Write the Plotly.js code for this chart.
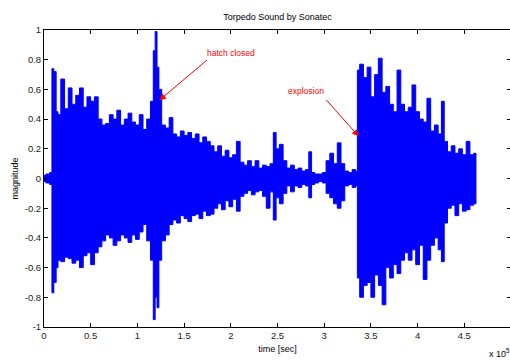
<!DOCTYPE html>
<html>
<head>
<meta charset="utf-8">
<script src="https://cdn.plot.ly/plotly-3.0.1.min.js"></script>
<style>
html,body{margin:0;padding:0;overflow:hidden;background:#fff;}
#chart{width:512px;height:361px;}
</style>
</head>
<body>
<div id="chart"></div>
<script>
// time positions (x 10^5 samples) where the waveform envelope was read
const t = [0.00,0.04,0.08,0.09,0.12,0.14,0.16,0.20,0.24,0.28,0.32,0.36,0.40,0.44,0.48,0.52,0.56,0.60,0.64,0.68,0.72,0.76,0.80,0.84,0.88,0.92,0.96,1.00,1.04,1.08,1.12,1.16,1.18,1.20,1.22,1.24,1.28,1.32,1.36,1.40,1.44,1.48,1.52,1.56,1.60,1.64,1.68,1.72,1.76,1.80,1.84,1.88,1.92,1.96,2.00,2.04,2.08,2.12,2.16,2.20,2.24,2.28,2.32,2.36,2.40,2.44,2.47,2.50,2.54,2.58,2.62,2.66,2.70,2.74,2.78,2.82,2.85,2.88,2.92,2.96,3.00,3.04,3.08,3.12,3.16,3.20,3.24,3.28,3.32,3.35,3.36,3.40,3.44,3.48,3.52,3.56,3.60,3.64,3.68,3.72,3.76,3.80,3.84,3.88,3.92,3.96,4.00,4.04,4.08,4.12,4.16,4.20,4.24,4.27,4.30,4.34,4.38,4.42,4.46,4.50,4.54,4.58,4.62,4.63];
// upper envelope of the magnitude
const upper = [0.02,0.03,0.04,0.74,0.72,0.45,0.43,0.67,0.47,0.61,0.50,0.56,0.61,0.48,0.55,0.52,0.55,0.40,0.36,0.37,0.43,0.40,0.46,0.36,0.40,0.44,0.38,0.36,0.43,0.33,0.40,0.52,0.86,0.99,0.75,0.60,0.36,0.34,0.41,0.30,0.28,0.32,0.29,0.31,0.27,0.30,0.24,0.28,0.25,0.22,0.18,0.22,0.15,0.19,0.14,0.16,0.25,0.11,0.09,0.12,0.08,0.12,0.07,0.09,0.08,0.10,0.31,0.20,0.23,0.12,0.07,0.09,0.06,0.07,0.05,0.06,0.18,0.04,0.03,0.03,0.04,0.12,0.17,0.10,0.24,0.10,0.05,0.04,0.06,0.05,0.73,0.77,0.68,0.75,0.55,0.70,0.81,0.58,0.62,0.50,0.45,0.73,0.50,0.45,0.48,0.63,0.45,0.40,0.38,0.54,0.32,0.36,0.30,0.52,0.25,0.18,0.22,0.17,0.20,0.16,0.25,0.16,0.17,0.16];
// lower envelope of the magnitude
const lower = [-0.02,-0.03,-0.04,-0.77,-0.70,-0.60,-0.55,-0.56,-0.53,-0.54,-0.57,-0.55,-0.60,-0.52,-0.50,-0.58,-0.50,-0.46,-0.42,-0.38,-0.40,-0.45,-0.42,-0.38,-0.40,-0.43,-0.38,-0.41,-0.36,-0.31,-0.42,-0.55,-0.95,-0.80,-0.87,-0.55,-0.42,-0.38,-0.31,-0.28,-0.30,-0.25,-0.27,-0.29,-0.25,-0.24,-0.27,-0.22,-0.25,-0.24,-0.20,-0.17,-0.21,-0.15,-0.19,-0.14,-0.22,-0.12,-0.10,-0.08,-0.11,-0.09,-0.08,-0.12,-0.20,-0.09,-0.28,-0.13,-0.17,-0.10,-0.05,-0.09,-0.05,-0.06,-0.04,-0.05,-0.13,-0.04,-0.03,-0.02,-0.03,-0.10,-0.13,-0.17,-0.20,-0.15,-0.05,-0.04,-0.06,-0.05,-0.67,-0.80,-0.72,-0.70,-0.80,-0.65,-0.72,-0.85,-0.60,-0.67,-0.58,-0.64,-0.55,-0.50,-0.55,-0.48,-0.58,-0.45,-0.68,-0.55,-0.45,-0.40,-0.48,-0.56,-0.30,-0.20,-0.18,-0.25,-0.17,-0.22,-0.21,-0.18,-0.17,-0.16];

const xTicks = [0,0.5,1,1.5,2,2.5,3,3.5,4,4.5];
const xTickText = ['0','0.5','1','1.5','2','2.5','3','3.5','4','4.5'];
const yTicks = [-1,-0.8,-0.6,-0.4,-0.2,0,0.2,0.4,0.6,0.8,1];
const yTickText = ['-1','-0.8','-0.6','-0.4','-0.2','0','0.2','0.4','0.6','0.8','1'];

const FONT = '"Liberation Sans", Arial, sans-serif';
const BLUE = 'rgb(0,0,255)';
const RED = 'rgb(255,0,0)';

const traces = [
  {x: t, y: lower, type: 'scatter', mode: 'lines', line: {color: BLUE, width: 1, shape: 'hvh'}, hoverinfo: 'skip', showlegend: false},
  {x: t, y: upper, type: 'scatter', mode: 'lines', fill: 'tonexty', fillcolor: BLUE, line: {color: BLUE, width: 1, shape: 'hvh'}, hoverinfo: 'skip', showlegend: false}
];

const axisCommon = {
  showgrid: false, zeroline: false, showline: true, linecolor: '#000', linewidth: 1,
  mirror: 'ticks', ticks: 'inside', ticklen: 4, tickcolor: '#000', tickwidth: 1,
  tickfont: {family: FONT, size: 9.5, color: '#222'}
};

const layout = {
  width: 512, height: 361,
  margin: {l: 44, r: 1, t: 30, b: 34},
  paper_bgcolor: '#fff', plot_bgcolor: '#fff',
  font: {family: FONT, size: 9, color: '#000'},
  title: {text: 'Torpedo Sound by Sonatec', font: {family: FONT, size: 9, color: '#000'}, x: 0.5, xref: 'paper', y: 1 - 17/361, yanchor: 'middle'},
  xaxis: Object.assign({}, axisCommon, {range: [0, 5], tickmode: 'array', tickvals: xTicks, ticktext: xTickText,
    title: {text: 'time [sec]', font: {family: FONT, size: 9, color: '#000'}, standoff: 5}}),
  yaxis: Object.assign({}, axisCommon, {range: [-1, 1], tickmode: 'array', tickvals: yTicks, ticktext: yTickText,
    title: {text: 'magnitude', font: {family: FONT, size: 9, color: '#000'}, standoff: 4}}),
  annotations: [
    {x: 2.004, y: 0.848, xref: 'x', yref: 'y', text: 'hatch closed', showarrow: false, font: {family: FONT, size: 8.5, color: RED}},
    {x: 1.236, y: 0.527, xref: 'x', yref: 'y', ax: 1.761, ay: 0.806, axref: 'x', ayref: 'y', text: '', showarrow: true,
     arrowhead: 2, arrowsize: 1.3, arrowwidth: 1, arrowcolor: RED},
    {x: 2.807, y: 0.586, xref: 'x', yref: 'y', text: 'explosion', showarrow: false, font: {family: FONT, size: 8.5, color: RED}},
    {x: 3.368, y: 0.285, xref: 'x', yref: 'y', ax: 3.01, ay: 0.538, axref: 'x', ayref: 'y', text: '', showarrow: true,
     arrowhead: 2, arrowsize: 1.3, arrowwidth: 1, arrowcolor: RED},
    {x: 0.976, y: -0.088, xref: 'paper', yref: 'paper', xanchor: 'center', yanchor: 'middle', text: 'x 10<sup>5</sup>', showarrow: false,
     font: {family: FONT, size: 9, color: '#000'}}
  ]
};

Plotly.newPlot('chart', traces, layout, {staticPlot: true, displayModeBar: false});
</script>
</body>
</html>
